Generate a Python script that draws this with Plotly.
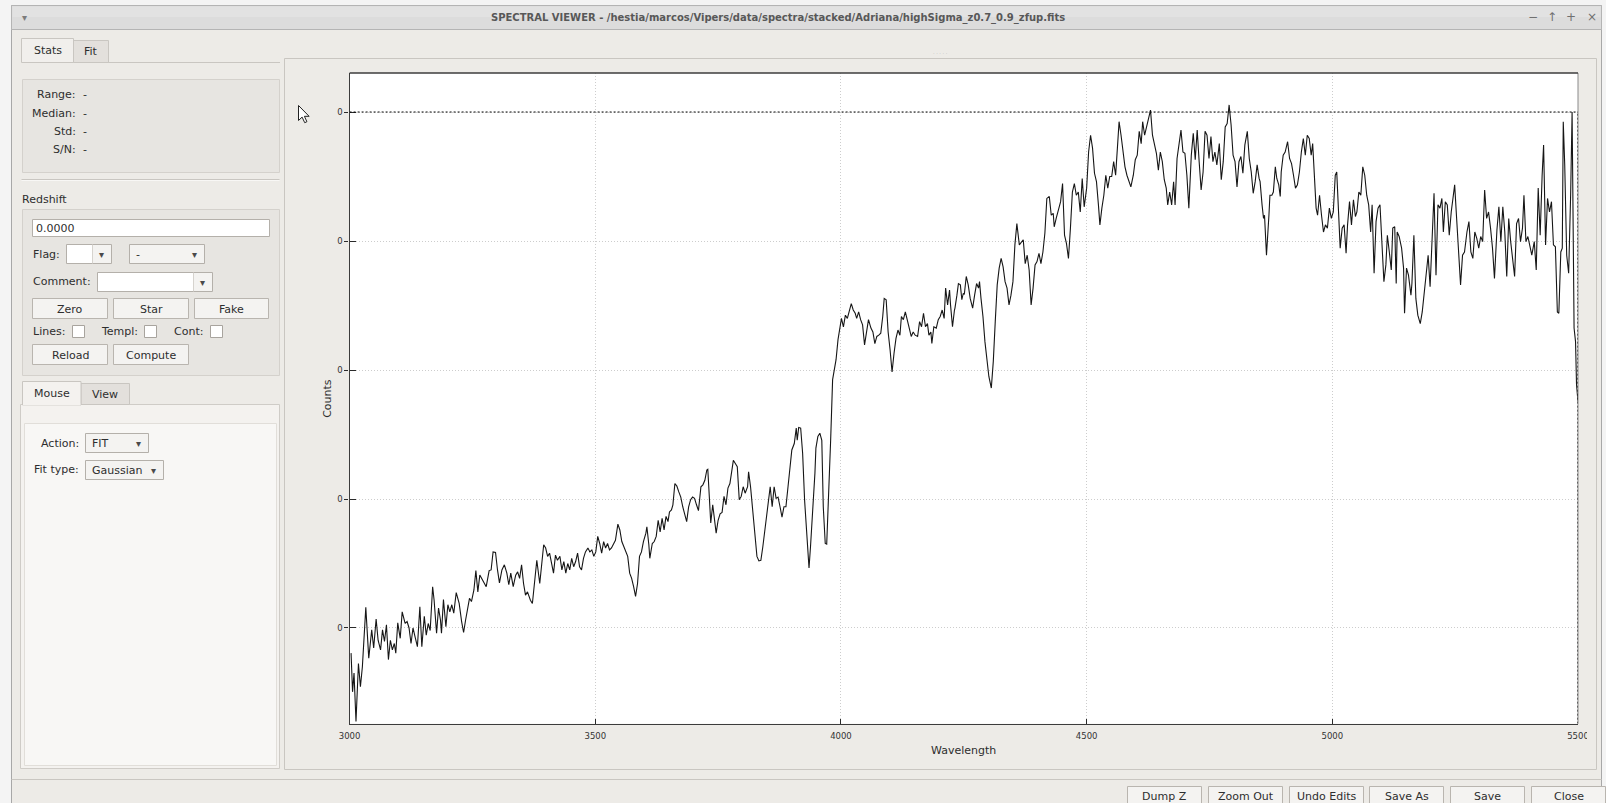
import plotly.graph_objects as go

W, H = 1606, 803
FONT = "DejaVu Sans"

# ---------------------------------------------------------------------------
# Stacked spectrum: wavelength (Angstrom) and counts, split in four ranges
# ---------------------------------------------------------------------------
WAVE_A = [3003, 3006, 3009, 3013, 3018, 3022, 3026, 3033, 3039, 3045,
          3049, 3054, 3058, 3063, 3067, 3071, 3075, 3079, 3083, 3087,
          3091, 3094, 3098, 3103, 3107, 3113, 3117, 3121, 3125, 3129,
          3133, 3138, 3143, 3147, 3152, 3156, 3160, 3164, 3169, 3172,
          3177, 3181, 3185, 3187, 3191, 3196, 3200, 3204, 3208, 3212,
          3217, 3223, 3228, 3232, 3236, 3240, 3244, 3248, 3253, 3257,
          3261, 3265, 3269, 3274, 3278, 3284, 3288, 3292, 3297, 3301,
          3305, 3310, 3315, 3320, 3324, 3328, 3333, 3338, 3342, 3346,
          3350, 3354, 3358, 3362, 3368, 3372, 3376, 3381, 3387, 3391,
          3395, 3399, 3403, 3407, 3411, 3415, 3419, 3423, 3428, 3432,
          3436, 3440, 3444, 3448, 3452, 3456, 3460, 3464, 3468, 3472,
          3476, 3480, 3485, 3489, 3493, 3497, 3501, 3505, 3509, 3513,
          3517, 3521, 3525, 3529, 3533, 3537, 3541, 3546, 3550, 3554,
          3558, 3562, 3566, 3570, 3574, 3578, 3582, 3586, 3590, 3594,
          3598, 3603, 3605, 3609]
FLUX_A = [0.161, 0.101, 0.130, 0.055, 0.145, 0.109, 0.140, 0.232, 0.153, 0.197,
          0.169, 0.214, 0.181, 0.166, 0.197, 0.179, 0.205, 0.151, 0.181, 0.166,
          0.176, 0.161, 0.208, 0.184, 0.225, 0.207, 0.210, 0.200, 0.176, 0.200,
          0.187, 0.171, 0.233, 0.171, 0.218, 0.189, 0.207, 0.196, 0.264, 0.243,
          0.192, 0.231, 0.212, 0.192, 0.244, 0.202, 0.236, 0.225, 0.236, 0.223,
          0.255, 0.238, 0.210, 0.193, 0.212, 0.233, 0.246, 0.241, 0.259, 0.289,
          0.256, 0.282, 0.277, 0.269, 0.264, 0.289, 0.290, 0.318, 0.317, 0.290,
          0.270, 0.290, 0.298, 0.285, 0.267, 0.285, 0.264, 0.282, 0.287, 0.277,
          0.298, 0.269, 0.251, 0.256, 0.243, 0.238, 0.269, 0.305, 0.269, 0.305,
          0.329, 0.324, 0.311, 0.316, 0.300, 0.285, 0.313, 0.305, 0.311, 0.290,
          0.303, 0.285, 0.300, 0.290, 0.308, 0.295, 0.303, 0.316, 0.295, 0.290,
          0.308, 0.318, 0.324, 0.318, 0.321, 0.311, 0.318, 0.342, 0.331, 0.316,
          0.334, 0.324, 0.331, 0.321, 0.324, 0.329, 0.336, 0.361, 0.352, 0.334,
          0.326, 0.321, 0.311, 0.285, 0.277, 0.264, 0.249, 0.269, 0.311, 0.318,
          0.334, 0.347, 0.357, 0.329]

WAVE_B = [3611, 3616, 3620, 3624, 3628, 3632, 3636, 3640, 3644, 3648,
          3651, 3655, 3658, 3662, 3666, 3670, 3674, 3678, 3682, 3686,
          3690, 3694, 3698, 3702, 3706, 3710, 3715, 3719, 3723, 3727,
          3729, 3732, 3735, 3739, 3743, 3746, 3750, 3754, 3758, 3762,
          3766, 3770, 3774, 3778, 3781, 3785, 3789, 3793, 3797, 3801,
          3805, 3810, 3812, 3816, 3820, 3824, 3829, 3833, 3837, 3841,
          3845, 3849, 3853, 3856, 3860, 3864, 3868, 3872, 3876, 3880,
          3884, 3888, 3892, 3896, 3900, 3905, 3909, 3911, 3914, 3918,
          3922, 3926, 3930, 3935, 3938, 3943, 3947, 3949, 3953, 3957,
          3961, 3964, 3968, 3971, 3975, 3979, 3983, 3986, 3990, 3994,
          3998, 4001, 4005, 4009, 4013, 4017, 4021, 4025, 4029, 4032,
          4036, 4040, 4044, 4048, 4052, 4056, 4061, 4065, 4069, 4073,
          4077, 4081, 4085, 4088, 4092, 4096, 4100, 4104, 4108, 4112,
          4116, 4120, 4123, 4127, 4131, 4135, 4139, 4143, 4147, 4151,
          4156, 4160, 4164, 4168, 4172, 4176, 4179, 4183, 4185, 4189,
          4194, 4198, 4202, 4206, 4210, 4213, 4217, 4221, 4223, 4227,
          4231]
FLUX_B = [0.308, 0.331, 0.334, 0.342, 0.367, 0.349, 0.370, 0.352, 0.373, 0.365,
          0.380, 0.383, 0.391, 0.424, 0.420, 0.411, 0.403, 0.388, 0.374, 0.365,
          0.388, 0.399, 0.403, 0.401, 0.391, 0.382, 0.419, 0.422, 0.429, 0.445,
          0.446, 0.409, 0.363, 0.391, 0.362, 0.347, 0.367, 0.377, 0.379, 0.404,
          0.391, 0.417, 0.424, 0.450, 0.460, 0.455, 0.450, 0.399, 0.404, 0.419,
          0.409, 0.419, 0.442, 0.419, 0.388, 0.352, 0.311, 0.304, 0.305, 0.326,
          0.352, 0.383, 0.404, 0.419, 0.388, 0.419, 0.401, 0.403, 0.388, 0.372,
          0.388, 0.388, 0.417, 0.450, 0.476, 0.486, 0.510, 0.491, 0.511, 0.510,
          0.471, 0.398, 0.342, 0.293, 0.326, 0.383, 0.440, 0.479, 0.497, 0.502,
          0.491, 0.388, 0.331, 0.330, 0.398, 0.491, 0.585, 0.600, 0.616, 0.647,
          0.667, 0.680, 0.667, 0.685, 0.680, 0.690, 0.703, 0.693, 0.688, 0.680,
          0.690, 0.678, 0.670, 0.639, 0.662, 0.678, 0.665, 0.659, 0.641, 0.652,
          0.654, 0.657, 0.683, 0.711, 0.709, 0.659, 0.631, 0.597, 0.626, 0.649,
          0.662, 0.654, 0.683, 0.678, 0.690, 0.678, 0.662, 0.652, 0.659, 0.654,
          0.652, 0.675, 0.667, 0.688, 0.667, 0.672, 0.654, 0.659, 0.641, 0.667,
          0.665, 0.678, 0.683, 0.693, 0.680, 0.727, 0.701, 0.724, 0.701, 0.667,
          0.693]

WAVE_C = [4232, 4236, 4239, 4243, 4246, 4249, 4251, 4255, 4259, 4263,
          4268, 4272, 4276, 4280, 4282, 4285, 4289, 4293, 4297, 4301,
          4306, 4310, 4314, 4318, 4322, 4326, 4330, 4334, 4338, 4342,
          4346, 4350, 4354, 4358, 4363, 4367, 4371, 4375, 4379, 4383,
          4387, 4391, 4395, 4399, 4403, 4407, 4411, 4415, 4419, 4424,
          4428, 4432, 4434, 4438, 4443, 4447, 4451, 4455, 4459, 4463,
          4467, 4471, 4475, 4479, 4483, 4487, 4491, 4495, 4500, 4504,
          4508, 4512, 4516, 4520, 4524, 4527, 4531, 4535, 4539, 4543,
          4547, 4551, 4555, 4559, 4563, 4566, 4570, 4574, 4578, 4582,
          4586, 4590, 4595, 4599, 4603, 4607, 4611, 4614, 4618, 4622,
          4626, 4630, 4634, 4638, 4642, 4646, 4650, 4654, 4658, 4662,
          4665, 4669, 4673, 4677, 4680, 4684, 4688, 4692, 4696, 4700,
          4704, 4708, 4713, 4717, 4721, 4725, 4729, 4733, 4737, 4741,
          4745, 4749, 4753, 4757, 4761, 4765, 4770, 4774, 4778, 4782,
          4786, 4790, 4794, 4798, 4802, 4806, 4810, 4814, 4818, 4822,
          4827, 4831, 4835, 4839, 4843, 4847, 4851]
FLUX_C = [0.696, 0.716, 0.734, 0.732, 0.709, 0.719, 0.717, 0.745, 0.732, 0.711,
          0.696, 0.716, 0.734, 0.727, 0.737, 0.711, 0.683, 0.644, 0.618, 0.590,
          0.572, 0.613, 0.675, 0.732, 0.758, 0.773, 0.760, 0.737, 0.727, 0.701,
          0.716, 0.737, 0.794, 0.827, 0.794, 0.799, 0.802, 0.765, 0.778, 0.755,
          0.701, 0.727, 0.763, 0.768, 0.781, 0.765, 0.783, 0.812, 0.866, 0.869,
          0.840, 0.843, 0.822, 0.835, 0.851, 0.861, 0.889, 0.809, 0.796, 0.773,
          0.820, 0.876, 0.889, 0.871, 0.876, 0.845, 0.897, 0.853, 0.882, 0.938,
          0.964, 0.944, 0.905, 0.892, 0.856, 0.825, 0.851, 0.871, 0.902, 0.882,
          0.900, 0.900, 0.923, 0.902, 0.949, 0.985, 0.964, 0.941, 0.915, 0.902,
          0.892, 0.884, 0.902, 0.926, 0.933, 0.970, 0.951, 0.985, 0.964, 0.977,
          0.988, 1.003, 0.964, 0.949, 0.936, 0.910, 0.938, 0.923, 0.895, 0.882,
          0.856, 0.876, 0.856, 0.892, 0.856, 0.928, 0.954, 0.972, 0.938, 0.936,
          0.902, 0.851, 0.933, 0.967, 0.926, 0.972, 0.923, 0.879, 0.907, 0.970,
          0.964, 0.928, 0.962, 0.923, 0.938, 0.918, 0.951, 0.895, 0.923, 0.977,
          0.982, 1.011, 0.980, 0.933, 0.923, 0.884, 0.923, 0.931, 0.905, 0.949,
          0.970, 0.928, 0.907, 0.874, 0.892, 0.918, 0.897]

WAVE_D = [4853, 4857, 4860, 4862, 4866, 4871, 4873, 4877, 4880, 4884,
          4887, 4891, 4894, 4896, 4900, 4904, 4909, 4913, 4917, 4921,
          4925, 4929, 4933, 4937, 4941, 4945, 4949, 4953, 4957, 4960,
          4963, 4967, 4970, 4974, 4978, 4982, 4986, 4990, 4994, 4998,
          5002, 5006, 5009, 5013, 5016, 5020, 5024, 5028, 5031, 5035,
          5039, 5043, 5047, 5050, 5054, 5058, 5062, 5066, 5070, 5074,
          5078, 5081, 5085, 5089, 5093, 5097, 5101, 5105, 5109, 5112,
          5116, 5120, 5123, 5127, 5130, 5132, 5136, 5141, 5145, 5147,
          5151, 5155, 5160, 5162, 5166, 5170, 5174, 5179, 5183, 5187,
          5191, 5195, 5199, 5203, 5207, 5211, 5215, 5219, 5223, 5226,
          5230, 5234, 5238, 5242, 5246, 5249, 5253, 5257, 5261, 5265,
          5269, 5274, 5278, 5282, 5286, 5290, 5294, 5298, 5302, 5306,
          5310, 5314, 5318, 5322, 5326, 5330, 5335, 5339, 5343, 5347,
          5351, 5355, 5359, 5363, 5367, 5371, 5375, 5379, 5383, 5387,
          5390, 5394, 5398, 5402, 5406, 5411, 5415, 5419, 5423, 5427,
          5430, 5434, 5438, 5442, 5446, 5450, 5454, 5458, 5461, 5465,
          5468, 5470, 5473, 5477, 5481, 5485, 5488, 5492, 5495, 5497,
          5500]
FLUX_D = [0.892, 0.856, 0.835, 0.840, 0.778, 0.840, 0.871, 0.871, 0.876, 0.915,
          0.897, 0.887, 0.869, 0.907, 0.933, 0.938, 0.954, 0.928, 0.920, 0.902,
          0.882, 0.887, 0.907, 0.938, 0.959, 0.933, 0.964, 0.959, 0.933, 0.951,
          0.907, 0.851, 0.840, 0.871, 0.840, 0.814, 0.825, 0.820, 0.851, 0.835,
          0.845, 0.902, 0.907, 0.830, 0.789, 0.820, 0.825, 0.781, 0.825, 0.861,
          0.825, 0.864, 0.838, 0.845, 0.876, 0.871, 0.915, 0.902, 0.871, 0.856,
          0.814, 0.856, 0.750, 0.830, 0.851, 0.856, 0.789, 0.737, 0.763, 0.809,
          0.783, 0.755, 0.820, 0.822, 0.734, 0.814, 0.807, 0.789, 0.758, 0.688,
          0.758, 0.747, 0.716, 0.734, 0.809, 0.711, 0.685, 0.672, 0.690, 0.721,
          0.758, 0.778, 0.729, 0.809, 0.874, 0.747, 0.856, 0.851, 0.866, 0.814,
          0.861, 0.856, 0.809, 0.845, 0.871, 0.887, 0.835, 0.773, 0.732, 0.778,
          0.783, 0.814, 0.830, 0.783, 0.773, 0.814, 0.804, 0.789, 0.807, 0.799,
          0.879, 0.835, 0.845, 0.820, 0.789, 0.742, 0.817, 0.853, 0.799, 0.853,
          0.814, 0.745, 0.835, 0.799, 0.776, 0.745, 0.827, 0.835, 0.799, 0.820,
          0.871, 0.799, 0.807, 0.794, 0.778, 0.799, 0.755, 0.882, 0.809, 0.902,
          0.949, 0.794, 0.866, 0.845, 0.861, 0.794, 0.791, 0.690, 0.688, 0.783,
          0.789, 0.985, 0.918, 0.778, 0.750, 0.871, 1.000, 0.665, 0.644, 0.577,
          0.551]

WAVE_TICKS = [3000, 3500, 4000, 4500, 5000, 5500]
COUNT_TICKS = [0.2, 0.4, 0.6, 0.8, 1.0]
COUNT_TICK_TEXT = ["0", "0", "0", "0", "0"]
WAVE_RANGE = [3000, 5500]
COUNT_RANGE = [0.0516, 1.0605]
REF_COUNT = 1.0          # dotted reference level
REF_WAVE = 5500          # dotted right limit

TITLE = ("SPECTRAL VIEWER - /hestia/marcos/Vipers/data/spectra/stacked/"
         "Adriana/highSigma_z0.7_0.9_zfup.fits")
STATS_LABELS = ["Range:", "Median:", "Std:", "S/N:"]
BOTTOM_BUTTONS = ["Dump Z", "Zoom Out", "Undo Edits", "Save As", "Save", "Close"]

wave = WAVE_A + WAVE_B + WAVE_C + WAVE_D
counts = FLUX_A + FLUX_B + FLUX_C + FLUX_D

# ---------------------------------------------------------------------------
# window furniture helpers (pixel based, converted to paper fractions)
# ---------------------------------------------------------------------------
BODY = "#edebe7"
GROUP = "#e7e5e1"
EDGE = "#c9c6c1"
FIELD_EDGE = "#b4b0aa"
BTN = "#f4f3f1"
TXT = "#2e2e2e"

shapes = []
annotations = []


def rect(x0, y0, x1, y1, fill, line=None, width=1, layer="below"):
    shapes.append(dict(
        type="rect", xref="paper", yref="paper",
        x0=x0 / W, x1=x1 / W, y0=1 - y1 / H, y1=1 - y0 / H,
        fillcolor=fill,
        line=dict(color=line if line else "rgba(0,0,0,0)",
                  width=width if line else 0),
        layer=layer))


def seg(x0, y0, x1, y1, color, width=1, layer="below"):
    shapes.append(dict(
        type="line", xref="paper", yref="paper",
        x0=x0 / W, x1=x1 / W, y0=1 - y0 / H, y1=1 - y1 / H,
        line=dict(color=color, width=width), layer=layer))


def txt(x, y, s, size=11, color=TXT, anchor="left", angle=0):
    annotations.append(dict(
        xref="paper", yref="paper", x=x / W, y=1 - y / H, text=s,
        showarrow=False, xanchor=anchor, yanchor="middle", borderpad=0,
        textangle=angle, font=dict(family=FONT, size=size, color=color)))


def button(x0, y0, x1, y1, label):
    rect(x0, y0, x1, y1, BTN, "#b9b5af")
    txt((x0 + x1) / 2, (y0 + y1) / 2 + 0.5, label, anchor="center")


def combo(x0, y0, x1, y1, label=None, split=None):
    rect(x0, y0, x1, y1, BTN, FIELD_EDGE)
    if split is not None:
        rect(x0 + 0.5, y0 + 0.5, split, y1 - 0.5, "#ffffff")
        seg(split, y0, split, y1, "#d6d3ce")
    if label:
        txt(x0 + 5, (y0 + y1) / 2 + 0.5, label)
    txt(x1 - 10, (y0 + y1) / 2 + 0.5, "▾", size=10, color="#4a4a4a", anchor="center")


def checkbox(x0, y0):
    rect(x0, y0, x0 + 12, y0 + 12, "#ffffff", "#a8a49e")


# plot area geometry (pixels)
PL, PR, PT, PB = 349.6, 1578.0, 73.0, 723.7

# window frame and title bar
rect(11.5, 5.5, 1601.5, 812, BODY, "#a8a8a8")
rect(11.5, 5.5, 1601.5, 29.5, "#dcdcdc", "#b4b4b4")
rect(12.5, 6.5, 1600.5, 17, "#e2e2e2")
txt(778.4, 17.6, "<b>" + TITLE + "</b>", size=10, color="#585858", anchor="center")
txt(24.5, 17.5, "▾", size=10, color="#7c7c7c", anchor="center")
for gx, glyph in zip([1533, 1552, 1571, 1592], ["−", "↑", "+", "×"]):
    txt(gx, 17.5, glyph, size=12, color="#707070", anchor="center")

# left pane: Stats / Fit tabs
seg(73, 62.5, 280, 62.5, EDGE)
rect(73.5, 40.5, 108.5, 62.5, "#e3e0dc", EDGE)
rect(21.5, 38.5, 73.5, 62.5, "#f1efec", EDGE)
txt(47.5, 50.5, "Stats", anchor="center")
txt(91, 51.5, "Fit", anchor="center")
rect(22.5, 79.5, 279.5, 172.5, GROUP, "#d4d1cc")
for yy, lab in zip([94.5, 113, 131.5, 150], STATS_LABELS):
    txt(77, yy, lab, anchor="right")
    txt(81.5, yy, "-")
seg(21.5, 179.5, 279.5, 179.5, EDGE)
seg(21.5, 180.5, 279.5, 180.5, "#f8f7f5")

# Redshift group
txt(20.5, 199, "Redshift")
rect(22.5, 209.5, 279.5, 375.5, GROUP, "#d4d1cc")
rect(32.5, 219.5, 269.5, 236.5, "#ffffff", FIELD_EDGE)
txt(34.5, 228.5, "0.0000")
txt(32, 254.5, "Flag:")
combo(66.5, 244.5, 111.5, 263.5, split=92.5)
combo(129.5, 244.5, 204.5, 263.5, label="-")
txt(32, 281, "Comment:")
combo(97.5, 272.5, 212.5, 291.5, split=193.5)
button(32.5, 298.5, 107.5, 318.5, "Zero")
button(113.5, 298.5, 188.5, 318.5, "Star")
button(194.5, 298.5, 268.5, 318.5, "Fake")
txt(32, 331.5, "Lines:")
checkbox(72.5, 325.5)
txt(100, 331.5, "Templ:")
checkbox(144.5, 325.5)
txt(172.5, 331.5, "Cont:")
checkbox(210.5, 325.5)
button(32.5, 344.5, 107.5, 364.5, "Reload")
button(113.5, 344.5, 188.5, 364.5, "Compute")

# Mouse / View tabs
rect(20.5, 404.5, 279.5, 768.5, "#f4f2ef", "#cfccc7")
rect(24.5, 423.5, 276.5, 765.5, "#f8f7f5", "#e1ded9")
rect(81, 383.5, 129.5, 404.5, "#e3e0dc", EDGE)
rect(22.5, 381.5, 81, 405, "#f4f2ef", EDGE)
seg(23, 404.5, 80.5, 404.5, "#f4f2ef", width=1.5)
txt(51.5, 393.5, "Mouse", anchor="center")
txt(105, 394.5, "View", anchor="center")
txt(80, 443.5, "Action:", anchor="right")
combo(85.5, 433.5, 148.5, 452.5, label="FIT")
txt(80, 469.5, "Fit type:", anchor="right")
combo(85.5, 460.5, 163.5, 479.5, label="Gaussian")

# plot panel and white canvas
rect(284.5, 58.5, 1596.5, 769.5, BODY, EDGE)
rect(PL, PT, PR, PB, "#ffffff")
txt(940, 52.5, "· · · · ·", size=5, color="#b0b0b0", anchor="center")

# bottom bar
seg(11.5, 779.5, 1601.5, 779.5, EDGE)
for (bx0, bx1), lab in zip([(1127.5, 1201.5), (1208.5, 1282.5), (1289.5, 1363.5),
                            (1369.5, 1443.5), (1450.5, 1524.5), (1531.5, 1605.5)],
                           BOTTOM_BUTTONS):
    button(bx0, 786.5, bx1, 806, lab)

# axis titles
txt((PL + PR) / 2, 750, "Wavelength", anchor="center")
txt(327.5, (PT + PB) / 2, "Counts", anchor="center", angle=-90)

# right frame edge, dotted reference box
shapes.append(dict(type="line", xref="paper", yref="paper", x0=PR / W, x1=PR / W,
                   y0=1 - PB / H, y1=1 - PT / H,
                   line=dict(color="#8a8a8a", width=1), layer="above"))
shapes.append(dict(type="line", xref="x", yref="y",
                   x0=WAVE_RANGE[0], x1=REF_WAVE, y0=REF_COUNT, y1=REF_COUNT,
                   line=dict(color="#000000", width=1, dash="2px,2px"), layer="above"))
shapes.append(dict(type="line", xref="x", yref="y",
                   x0=REF_WAVE, x1=REF_WAVE, y0=COUNT_RANGE[0], y1=REF_COUNT,
                   line=dict(color="#000000", width=1, dash="2px,2px"), layer="above"))
# top frame edge
shapes.append(dict(type="line", xref="paper", yref="paper", x0=PL / W, x1=PR / W,
                   y0=1 - PT / H, y1=1 - PT / H,
                   line=dict(color="#3c3c3c", width=1.3), layer="above"))

# clip of the last wavelength label at the widget edge
rect(1587, 729, 1595.5, 745, BODY, layer="above")

# mouse pointer
cx, cy = 298.5, 105.5
pts = [(0, 0), (0, 15), (3.6, 11.6), (6.2, 17.2), (8.4, 16.2), (5.9, 10.8), (10.6, 10.8)]
path = "M " + " L ".join(f"{(cx + a) / W:.5f},{1 - (cy + b) / H:.5f}" for a, b in pts) + " Z"
shapes.append(dict(type="path", xref="paper", yref="paper", path=path,
                   fillcolor="#ffffff", line=dict(color="#222222", width=1), layer="above"))

fig = go.Figure()
fig.add_trace(go.Scatter(
    x=wave, y=counts, mode="lines",
    line=dict(color="#161616", width=1.1),
    hoverinfo="skip", showlegend=False))
fig.add_trace(go.Scatter(x=[], y=[], yaxis="y2", showlegend=False, hoverinfo="skip"))

axis_common = dict(
    showgrid=True, gridcolor="#cdcdcd", griddash="1px,2px", gridwidth=1,
    zeroline=False, showline=True, linecolor="#3c3c3c", linewidth=1.3,
    tickcolor="#2a2a2a", tickwidth=1.3, automargin=False,
    tickfont=dict(family=FONT, size=8.5, color="#333333"))

fig.update_layout(
    width=W, height=H, autosize=False,
    margin=dict(l=0, r=0, t=0, b=0, pad=0, autoexpand=False),
    paper_bgcolor="#f4f4f4", plot_bgcolor="#ffffff",
    showlegend=False,
    xaxis=dict(domain=[PL / W, PR / W], range=WAVE_RANGE,
               tickmode="array", tickvals=WAVE_TICKS, ticklabelstandoff=4,
               ticks="inside", ticklen=5, mirror=False, **axis_common),
    yaxis=dict(domain=[1 - PB / H, 1 - PT / H], range=COUNT_RANGE,
               tickmode="array", tickvals=COUNT_TICKS, ticktext=COUNT_TICK_TEXT,
               ticks="outside", ticklen=4, mirror=False, **axis_common),
    yaxis2=dict(overlaying="y", anchor="x", side="left", range=COUNT_RANGE,
                tickmode="array", tickvals=COUNT_TICKS, showticklabels=False,
                ticks="inside", ticklen=6, tickcolor="#2a2a2a", tickwidth=1.3,
                showgrid=False, zeroline=False, showline=False, automargin=False),
    shapes=shapes, annotations=annotations,
)

fig.write_html("out.html")
